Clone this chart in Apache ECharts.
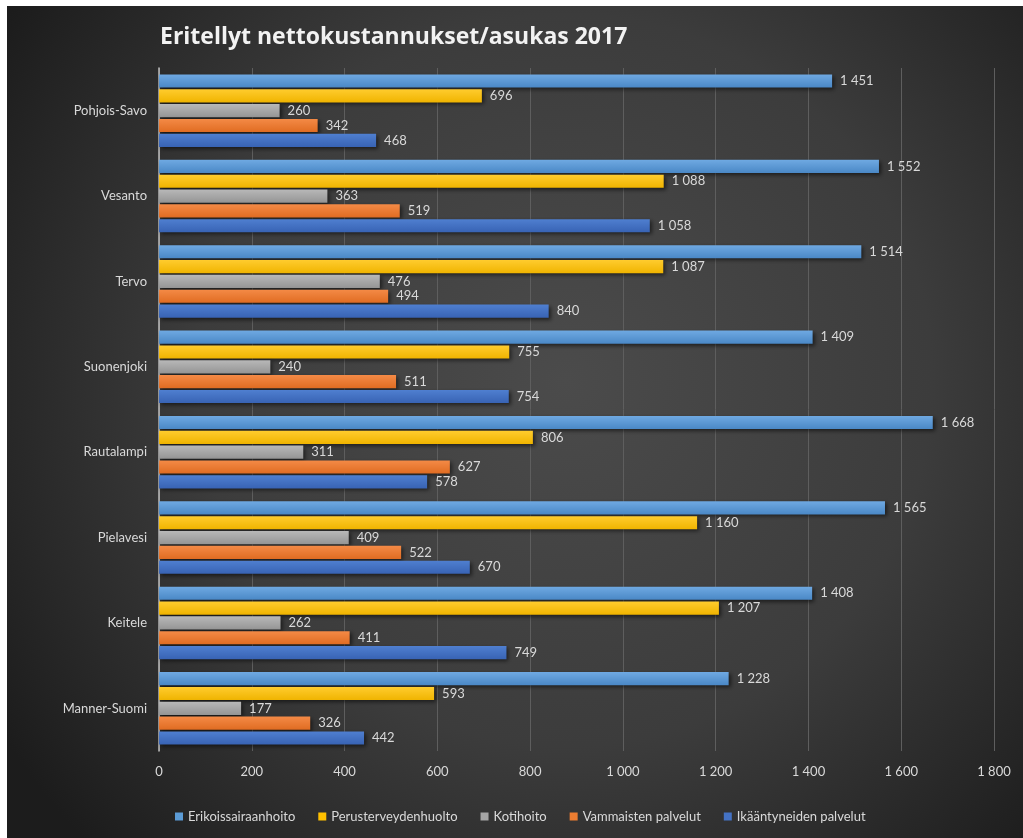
<!DOCTYPE html>
<html>
<head>
<meta charset="utf-8">
<script src="https://cdn.jsdelivr.net/npm/echarts@6/dist/echarts.min.js"></script>
<style>
html,body{margin:0;padding:0;background:#fff;width:1023px;height:838px;overflow:hidden;}
#chart{position:absolute;left:7px;top:6px;width:1016px;height:832px;}
</style>
</head>
<body>
<div id="chart"></div>
<script>
const categories = ['Pohjois-Savo','Vesanto','Tervo','Suonenjoki','Rautalampi','Pielavesi','Keitele','Manner-Suomi'];
const seriesNames = ['Erikoissairaanhoito','Perusterveydenhuolto','Kotihoito','Vammaisten palvelut','Ikääntyneiden palvelut'];
const erikoissairaanhoito = [1451,1552,1514,1409,1668,1565,1408,1228];
const perusterveydenhuolto = [696,1088,1087,755,806,1160,1207,593];
const kotihoito = [260,363,476,240,311,409,262,177];
const vammaistenPalvelut = [342,519,494,511,627,522,411,326];
const ikaantyneidenPalvelut = [468,1058,840,754,578,670,749,442];
const xTicks = {min:0, max:1800, interval:200};

const seriesData = [erikoissairaanhoito, perusterveydenhuolto, kotihoito, vammaistenPalvelut, ikaantyneidenPalvelut];
const colors = [
  ['#6fa9e2','#4a88c6'],
  ['#ffcc2e','#f0b400'],
  ['#b8b8b8','#959595'],
  ['#f48a46','#e06c22'],
  ['#4f7fd0','#3863b4']
];
const legendColors = ['#5b9bd5','#ffc000','#a5a5a5','#ed7d31','#4472c4'];
function fmt(v){ return String(v).replace(/\B(?=(\d{3})+(?!\d))/g,' '); }

const chart = echarts.init(document.getElementById('chart'), null, {renderer:'canvas'});
const font = 'Lato';
chart.setOption({
  animation:false,
  backgroundColor:{type:'radial',x:0.55,y:0.45,r:0.8,colorStops:[{offset:0,color:'#4b4b4b'},{offset:0.55,color:'#3c3c3c'},{offset:1,color:'#1c1c1c'}]},
  color: legendColors,
  title:{text:'Eritellyt nettokustannukset/asukas 2017',left:148,top:15,textStyle:{color:'#f2f2f2',fontSize:23,fontWeight:'bold',fontFamily:'Open Sans'}},
  legend:{data:seriesNames.map((n,i)=>({name:n,itemStyle:{color:legendColors[i]}})),bottom:10,left:163,itemWidth:8,itemHeight:8,itemGap:23,icon:'rect',
    textStyle:{color:'#d9d9d9',fontSize:13,fontFamily:font}},
  grid:{left:152,right:29,top:62,bottom:87,containLabel:false},
  xAxis:{type:'value',min:xTicks.min,max:xTicks.max,interval:xTicks.interval,
    axisLine:{show:false},axisTick:{show:false},
    axisLabel:{color:'#d9d9d9',fontSize:13,fontFamily:font,margin:14,formatter:fmt},
    splitLine:{lineStyle:{color:'#5e5e5e',width:1}}},
  yAxis:{type:'category',data:categories,inverse:true,
    axisLine:{lineStyle:{color:'#bfbfbf',width:1.5}},axisTick:{show:false},
    axisLabel:{color:'#d9d9d9',fontSize:13,fontFamily:font,margin:12}},
  series: seriesNames.map((name,i)=>({
    name:name,type:'bar',data:seriesData[i],
    barCategoryGap:'15%',barGap:'13%',
    itemStyle:{color:{type:'linear',x:0,y:0,x2:0,y2:1,colorStops:[{offset:0,color:colors[i][0]},{offset:1,color:colors[i][1]}]},
      shadowColor:'rgba(0,0,0,0.55)',shadowBlur:4,shadowOffsetX:2,shadowOffsetY:2},
    label:{show:true,position:'right',distance:8,color:'#d9d9d9',fontSize:13,fontFamily:font,formatter:p=>fmt(p.value)}
  }))
});
</script>
</body>
</html>
